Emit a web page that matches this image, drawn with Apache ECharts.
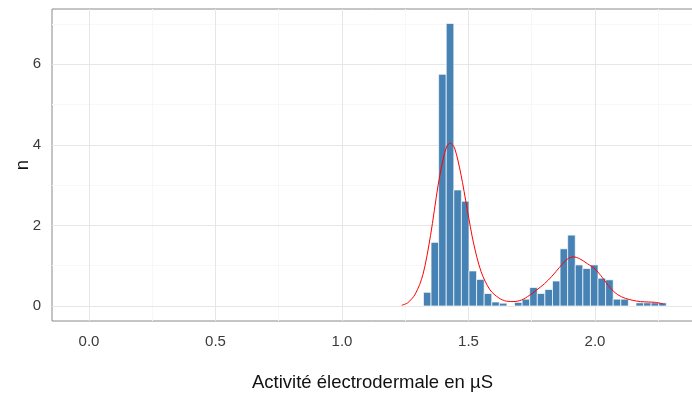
<!DOCTYPE html>
<html><head><meta charset="utf-8">
<script src="https://cdn.jsdelivr.net/npm/echarts@6/dist/echarts.min.js"></script>
<style>html,body{margin:0;padding:0;background:#fff}#c{width:692px;height:393px}</style>
</head><body><div id="c"></div>
<script>
// Histogram bins (centers) and heights
const binCenters = [1.337,1.367,1.397,1.427,1.457,1.487,1.517,1.547,1.577,1.607,1.637,1.667,1.697,1.727,1.757,1.787,1.817,1.847,1.877,1.907,1.937,1.967,1.997,2.027,2.057,2.087,2.117,2.147,2.177,2.207,2.237,2.267];
const counts     = [0.34,1.58,5.75,7.01,2.88,2.60,0.87,0.66,0.31,0.10,0.07,0,0.09,0.17,0.46,0.31,0.41,0.62,1.42,1.76,1.02,0.93,1.02,0.69,0.65,0.17,0.17,0,0.08,0.08,0.08,0.08];
const binWidth = 0.03;
// Density curve
const densityX = [1.236,1.26,1.29,1.32,1.35,1.38,1.40,1.415,1.428,1.445,1.47,1.495,1.52,1.55,1.585,1.62,1.65,1.68,1.71,1.74,1.77,1.80,1.83,1.86,1.89,1.915,1.94,1.97,2.00,2.03,2.06,2.09,2.12,2.15,2.18,2.21,2.24,2.27];
const densityY = [0.02,0.08,0.30,0.78,1.75,3.00,3.65,3.97,4.04,3.92,3.27,2.40,1.56,0.85,0.40,0.20,0.12,0.11,0.15,0.26,0.40,0.55,0.74,0.96,1.16,1.22,1.17,1.05,0.92,0.70,0.45,0.28,0.19,0.14,0.11,0.10,0.09,0.05];
// Axis ticks
const xTicks = [0,0.5,1,1.5,2];
const xMinor = [0.25,0.75,1.25,1.75,2.25];
const yTicks = [0,2,4,6];
const yMinor = [1,3,5,7];
const xTitle = 'Activité électrodermale en µS';
const yTitle = 'n';

const FONT = '"Liberation Sans", Arial, sans-serif';
const chart = echarts.init(document.getElementById('c'), null, {renderer:'canvas'});
const gridLines = [];
xMinor.forEach(v => gridLines.push({xAxis:v, lineStyle:{color:'#f7f7f7', width:1, type:'solid'}}));
yMinor.forEach(v => gridLines.push({yAxis:v, lineStyle:{color:'#f7f7f7', width:1, type:'solid'}}));
xTicks.forEach(v => gridLines.push({xAxis:v, lineStyle:{color:'#e6e6e6', width:1, type:'solid'}}));
yTicks.forEach(v => gridLines.push({yAxis:v, lineStyle:{color:'#e6e6e6', width:1, type:'solid'}}));

const labelStyle = {color:'#3a3a3a', fontSize:15, fontFamily:FONT};
const W = 641;
chart.setOption({
  animation:false,
  grid:{left:52, top:9, width:W, bottom:72, show:true, borderColor:'#8a8a8a', borderWidth:1,
    containLabel:false, outerBoundsMode:'none'},
  xAxis:{type:'value', min:-0.1462, max:-0.1462+W/253,
    axisLine:{show:false}, splitLine:{show:false},
    axisTick:{show:true, length:4, lineStyle:{color:'#333'}, customValues:xTicks},
    axisLabel:Object.assign({customValues:xTicks, margin:13, formatter:v=>v.toFixed(1)}, labelStyle),
    name:xTitle, nameLocation:'middle', nameGap:52, nameMoveOverlap:false,
    nameTextStyle:{color:'#111', fontSize:18.5, fontFamily:FONT}},
  yAxis:{type:'value', min:-0.372, max:7.37,
    axisLine:{show:false}, splitLine:{show:false},
    axisTick:{show:true, length:6, lineStyle:{color:'#333'}, customValues:yTicks},
    axisLabel:Object.assign({customValues:yTicks, margin:11}, labelStyle),
    name:yTitle, nameLocation:'middle', nameGap:20, nameRotate:90, nameMoveOverlap:false,
    nameTextStyle:{color:'#111', fontSize:18.5, fontFamily:FONT}},
  series:[
    {type:'line', data:[], silent:true, z:1,
      markLine:{silent:true, z:1, symbol:['none','none'], label:{show:false}, data:gridLines, animation:false}},
    {type:'custom', z:3, data:binCenters.map((c,i)=>[c,counts[i]]),
      renderItem:(params, api) => {
        const c = api.value(0), v = api.value(1);
        if (!v) return null;
        const p0 = api.coord([c - binWidth/2, v]);
        const p1 = api.coord([c + binWidth/2, 0]);
        return {type:'rect', shape:{x:p0[0], y:p0[1], width:p1[0]-p0[0], height:p1[1]-p0[1]},
          style:{fill:'#4682B4', stroke:'#ffffff', lineWidth:0.7}};
      }},
    {type:'line', z:4, data:densityX.map((x,i)=>[x,densityY[i]]), smooth:0.3, showSymbol:false,
      lineStyle:{color:'#ff0000', width:1}}
  ]
});
</script>
</body></html>
